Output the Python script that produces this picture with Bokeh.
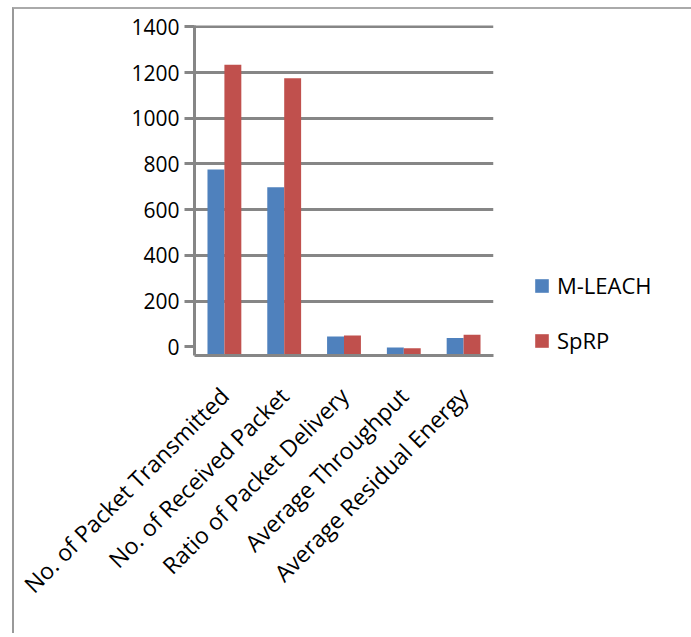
from math import pi
from bokeh.plotting import figure
from bokeh.models import FactorRange, Range1d, FixedTicker, Legend, LegendItem, ColumnDataSource
from bokeh.transform import dodge
from bokeh.embed import file_html
from bokeh.resources import INLINE

categories = ["No. of Packet Transmitted", "No. of Received Packet", "Ratio of Packet Delivery",
              "Average Throughput", "Average Residual Energy"]
m_leach = [776, 698, 45, -3, 39]
sprp = [1234, 1175, 49, -6, 53]
y_ticks = [0, 200, 400, 600, 800, 1000, 1200, 1400]
grid_ticks = [200, 400, 600, 800, 1000, 1200, 1400]
y_start = -38

src = ColumnDataSource(dict(cat=categories, m=m_leach, s=sprp))

FONT = "Open Sans"
GRAY = "#868686"

p = figure(x_range=FactorRange(*categories), y_range=Range1d(y_start, 1406),
           frame_width=299, frame_height=330, output_backend="svg", toolbar_location=None,
           min_border_left=180, min_border_top=16, min_border_right=192, min_border_bottom=278)
p.margin = (7, 0, 0, 12)
p.styles = {"border-left": "2px solid #999999", "border-right": "3px solid #8a8a8a",
            "border-top": "2px solid #aaaaaa"}
p.outline_line_color = None
p.background_fill_color = "white"

bw = 0.283
r1 = p.vbar(x=dodge("cat", -bw / 2, range=p.x_range), top="m", bottom=y_start, width=bw,
            source=src, fill_color="#4F81BD", line_color=None)
r2 = p.vbar(x=dodge("cat", bw / 2, range=p.x_range), top="s", bottom=y_start, width=bw,
            source=src, fill_color="#C0504D", line_color=None)

p.xgrid.visible = False
p.ygrid.ticker = FixedTicker(ticks=grid_ticks)
p.ygrid.grid_line_color = GRAY
p.ygrid.grid_line_width = 3

p.yaxis.ticker = FixedTicker(ticks=y_ticks)
p.yaxis.axis_line_color = GRAY
p.yaxis.axis_line_width = 3
p.yaxis.major_tick_line_color = GRAY
p.yaxis.major_tick_line_width = 3
p.yaxis.major_tick_out = 10
p.yaxis.major_tick_in = 0
p.yaxis.minor_tick_line_color = None
p.yaxis.major_label_standoff = 5
p.yaxis.major_label_text_font = FONT
p.yaxis.major_label_text_font_size = "21px"
p.yaxis.major_label_text_color = "black"

p.xaxis.axis_line_color = GRAY
p.xaxis.axis_line_width = 3
p.xaxis.major_tick_line_color = None
p.xaxis.minor_tick_line_color = None
p.xaxis.major_label_orientation = pi / 4
p.xaxis.major_label_standoff = 30
p.xaxis.major_label_text_font = FONT
p.xaxis.major_label_text_font_size = "23px"
p.xaxis.major_label_text_color = "black"

legend = Legend(items=[LegendItem(label="M-LEACH", renderers=[r1]),
                       LegendItem(label="SpRP", renderers=[r2])],
                location="bottom_left", orientation="vertical")
legend.border_line_color = None
legend.background_fill_alpha = 0
legend.label_text_font = FONT
legend.label_text_font_size = "22px"
legend.label_text_color = "black"
legend.glyph_width = 17
legend.glyph_height = 17
legend.spacing = 25
legend.padding = 0
legend.margin = 0
legend.label_standoff = 7
legend.location = (40, 0)
p.add_layout(legend, "right")

open("out.html", "w").write(file_html(p, INLINE))
